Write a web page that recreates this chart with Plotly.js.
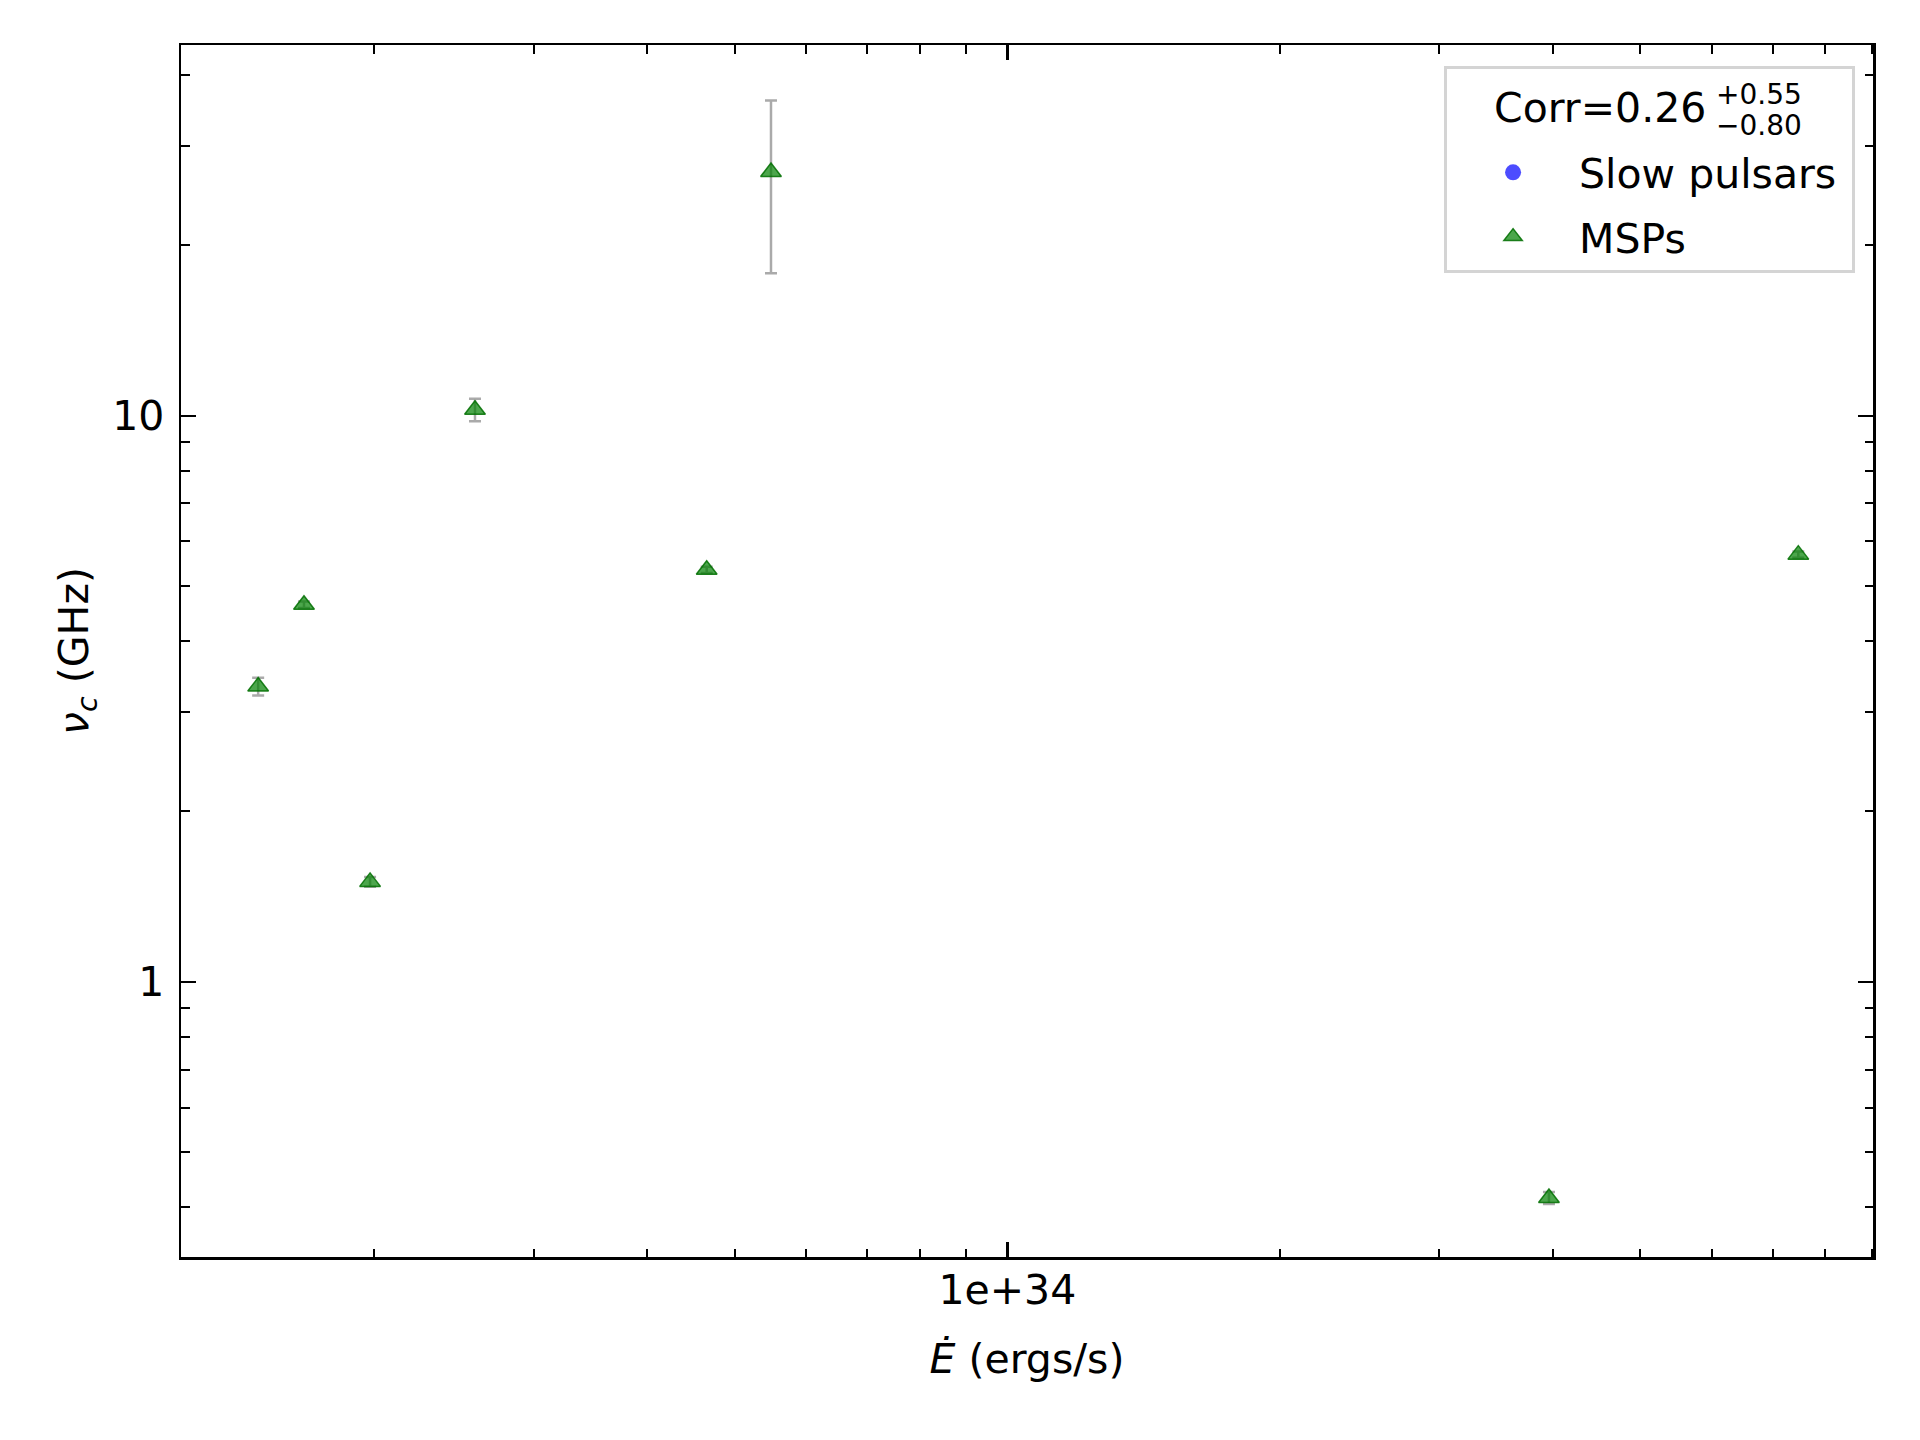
<!DOCTYPE html>
<html>
<head>
<meta charset="utf-8">
<script src="https://cdn.plot.ly/plotly-3.0.1.min.js"></script>
<style>
  body { margin: 0; background: #fff; }
  #plot { width: 1920px; height: 1440px; }
</style>
</head>
<body>
<div id="plot"></div>
<script>
// spin-down luminosity vs turnover frequency
var edotMSP = [1.489e33, 1.673e33, 1.979e33, 2.584e33, 4.657e33, 5.484e33, 3.963e34, 7.470e34];
var nucMSP = [3.324, 4.636, 1.502, 10.25, 5.344, 26.95, 0.4153, 5.685];
var nucErrMSP = [0.12, 0.06, 0.03, 0.47, 0.07, 9.1, 0.01, 0.07];

// no slow pulsars in this panel, only the legend entry
var edotSlow = [null];
var nucSlow = [null];

var xMajor = [1e34];
var xMajorText = ['1e+34'];
var xMinor = [2e33, 3e33, 4e33, 5e33, 6e33, 7e33, 8e33, 9e33,
              2e34, 3e34, 4e34, 5e34, 6e34, 7e34, 8e34, 9e34];
var yMajor = [1, 10];
var yMajorText = ['1', '10'];
var yMinor = [0.4, 0.5, 0.6, 0.7, 0.8, 0.9, 2, 3, 4, 5, 6, 7, 8, 9, 20, 30, 40];

var corrText = 'Corr=0.26';
var corrUp = '+0.55';
var corrDown = '\u22120.80';

var font = 'DejaVu Sans, sans-serif';

// blank legend title: only reserves the room the Corr text sits in
var legendSpacer = new Array(24).join('\u00a0') + '\u200a';

var slowTrace = {
  type: 'scatter',
  mode: 'markers',
  name: 'Slow pulsars',
  x: edotSlow,
  y: nucSlow,
  marker: { symbol: 'circle', size: 16, color: 'rgba(0,0,255,0.7)' },
  legendgroup: 'slow'
};

var mspTrace = {
  type: 'scatter',
  mode: 'markers',
  name: 'MSPs',
  x: edotMSP,
  y: nucMSP,
  error_y: {
    type: 'data',
    array: nucErrMSP,
    visible: true,
    color: '#aaaaaa',
    thickness: 2.5,
    width: 6
  },
  marker: {
    symbol: 'triangle-up',
    size: 18,
    color: 'rgba(0,128,0,0.7)',
    line: { color: 'rgba(0,110,0,0.85)', width: 1.5 }
  },
  legendgroup: 'msp'
};

var axisCommon = {
  type: 'log',
  showgrid: false,
  zeroline: false,
  showline: true,
  linecolor: 'black',
  linewidth: 2.5,
  mirror: 'allticks',
  ticks: 'inside',
  ticklen: 15,
  tickwidth: 2.5,
  tickcolor: 'black',
  tickmode: 'array',
  tickfont: { family: font, size: 41, color: 'black' }
};

var layout = {
  width: 1920,
  height: 1440,
  paper_bgcolor: 'white',
  plot_bgcolor: 'white',
  font: { family: font, size: 41, color: 'black' },
  margin: { l: 181, r: 47, t: 45, b: 183 },
  showlegend: true,
  xaxis: Object.assign({}, axisCommon, {
    range: [33.0877, 34.9558],
    tickvals: xMajor,
    ticktext: xMajorText,
    ticklabelstandoff: -5,
    minor: { tickmode: 'array', tickvals: xMinor, ticks: 'inside', ticklen: 8.5, tickwidth: 2, tickcolor: 'black', showgrid: false },
    title: { text: '<i>\u0116</i> (ergs/s)', font: { family: font, size: 41 }, standoff: 32 }
  }),
  yaxis: Object.assign({}, axisCommon, {
    range: [-0.4859, 1.6549],
    tickvals: yMajor,
    ticktext: yMajorText,
    ticklabelstandoff: 6,
    minor: { tickmode: 'array', tickvals: yMinor, ticks: 'inside', ticklen: 8.5, tickwidth: 2, tickcolor: 'black', showgrid: false },
    title: { text: '<i>\u03bd</i><sub><i>c</i></sub> (GHz)', font: { family: font, size: 41 }, standoff: 11 }
  }),
  legend: {
    x: 0.9894,
    y: 0.9827,
    xanchor: 'right',
    yanchor: 'top',
    bgcolor: 'rgba(255,255,255,0)',
    bordercolor: '#d4d4d4',
    borderwidth: 3,
    itemwidth: 122,
    traceorder: 'grouped',
    tracegroupgap: 8,
    font: { family: font, size: 41, color: 'black' },
    title: { text: legendSpacer, font: { family: font, size: 54 } }
  },
  annotations: [
    { xref: 'paper', yref: 'paper', x: 0.9025, y: 0.9484, xanchor: 'right', yanchor: 'middle',
      text: corrText, showarrow: false, font: { family: font, size: 41, color: 'black' } },
    { xref: 'paper', yref: 'paper', x: 0.9060, y: 0.9590, xanchor: 'left', yanchor: 'middle',
      text: corrUp, showarrow: false, font: { family: font, size: 28, color: 'black' } },
    { xref: 'paper', yref: 'paper', x: 0.9060, y: 0.9337, xanchor: 'left', yanchor: 'middle',
      text: corrDown, showarrow: false, font: { family: font, size: 28, color: 'black' } }
  ]
};

Plotly.newPlot('plot', [slowTrace, mspTrace], layout, { staticPlot: true });
</script>
</body>
</html>
